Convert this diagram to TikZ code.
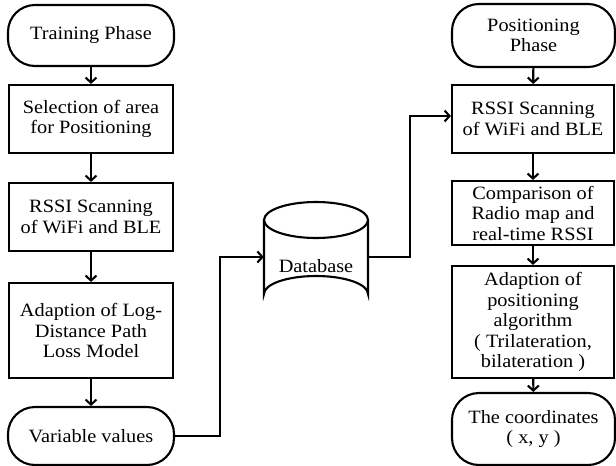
\documentclass[tikz,border=0pt]{standalone}
\usepackage{fontspec}
\setmainfont[FakeStretch=1.08]{Liberation Serif}
\usetikzlibrary{arrows.meta}
\begin{document}
\begin{tikzpicture}[x=1pt,y=-1pt,
  every node/.style={font=\fontsize{18.8}{20.5}\selectfont, align=center, inner sep=0pt},
  box/.style={draw, line width=2.1pt, rectangle, minimum width=164pt},
  stadium/.style={draw, line width=2.1pt, rectangle, rounded corners=27pt},
  arr/.style={line width=2.1pt, -{Straight Barb[length=5pt,width=11pt,line width=2.1pt]}},
  ln/.style={line width=2.1pt}]
\useasboundingbox (0,0) rectangle (616,466);
% left column
\node[stadium, minimum width=166pt, minimum height=61pt] (tp) at (91,35.5) {Training Phase};
\node[box, minimum height=68pt] (sel) at (91,119) {Selection of area\\for Positioning};
\node[box, minimum height=68pt] (rs1) at (91,217) {RSSI Scanning\\of WiFi and BLE};
\node[box, minimum height=95pt] (ad1) at (91,330.5) {Adaption of Log-\\Distance Path\\Loss Model};
\node[stadium, minimum width=166pt, minimum height=58pt] (var) at (91,436) {Variable values};
% right column
\node[stadium, minimum width=163pt, minimum height=63pt] (pp) at (533.5,35.5) {Positioning\\Phase};
\node[box, minimum width=162pt, minimum height=68pt] (rs2) at (533,119) {RSSI Scanning\\of WiFi and BLE};
\node[box, minimum width=162pt, minimum height=64pt] (cmp) at (533,213) {Comparison of\\Radio map and\\real-time RSSI};
\node[box, minimum width=162pt, minimum height=112pt] (ad2) at (533,322) {Adaption of\\positioning\\algorithm\\( Trilateration,\\bilateration )};
\node[stadium, minimum width=163pt, minimum height=72pt] (crd) at (533.5,429) {The coordinates\\( x, y )};
% database cylinder
\node[minimum width=104pt, minimum height=110pt] (db) at (316,257) {};
\draw[ln, fill=white] (264,220) -- (264,294) arc[start angle=180, end angle=360, x radius=52, y radius=18] -- (368,220);
\draw[ln] (316,220) ellipse[x radius=52, y radius=18];
\node (dbt) at (316,266) {Database};
% connectors
\draw[arr] (tp) -- (sel);
\draw[arr] (sel) -- (rs1);
\draw[arr] (rs1) -- (ad1);
\draw[arr] (ad1) -- (var);
\draw[arr] (pp) -- (rs2);
\draw[arr] (rs2) -- (cmp);
\draw[arr] (cmp) -- (ad2);
\draw[arr] (ad2) -- (crd);
\draw[arr] (var.east) -- ++(45,0) |- (db.west);
\draw[arr] (db.east) -- ++(42,0) |- ([yshift=3pt]rs2.west);
\end{tikzpicture}
\end{document}
